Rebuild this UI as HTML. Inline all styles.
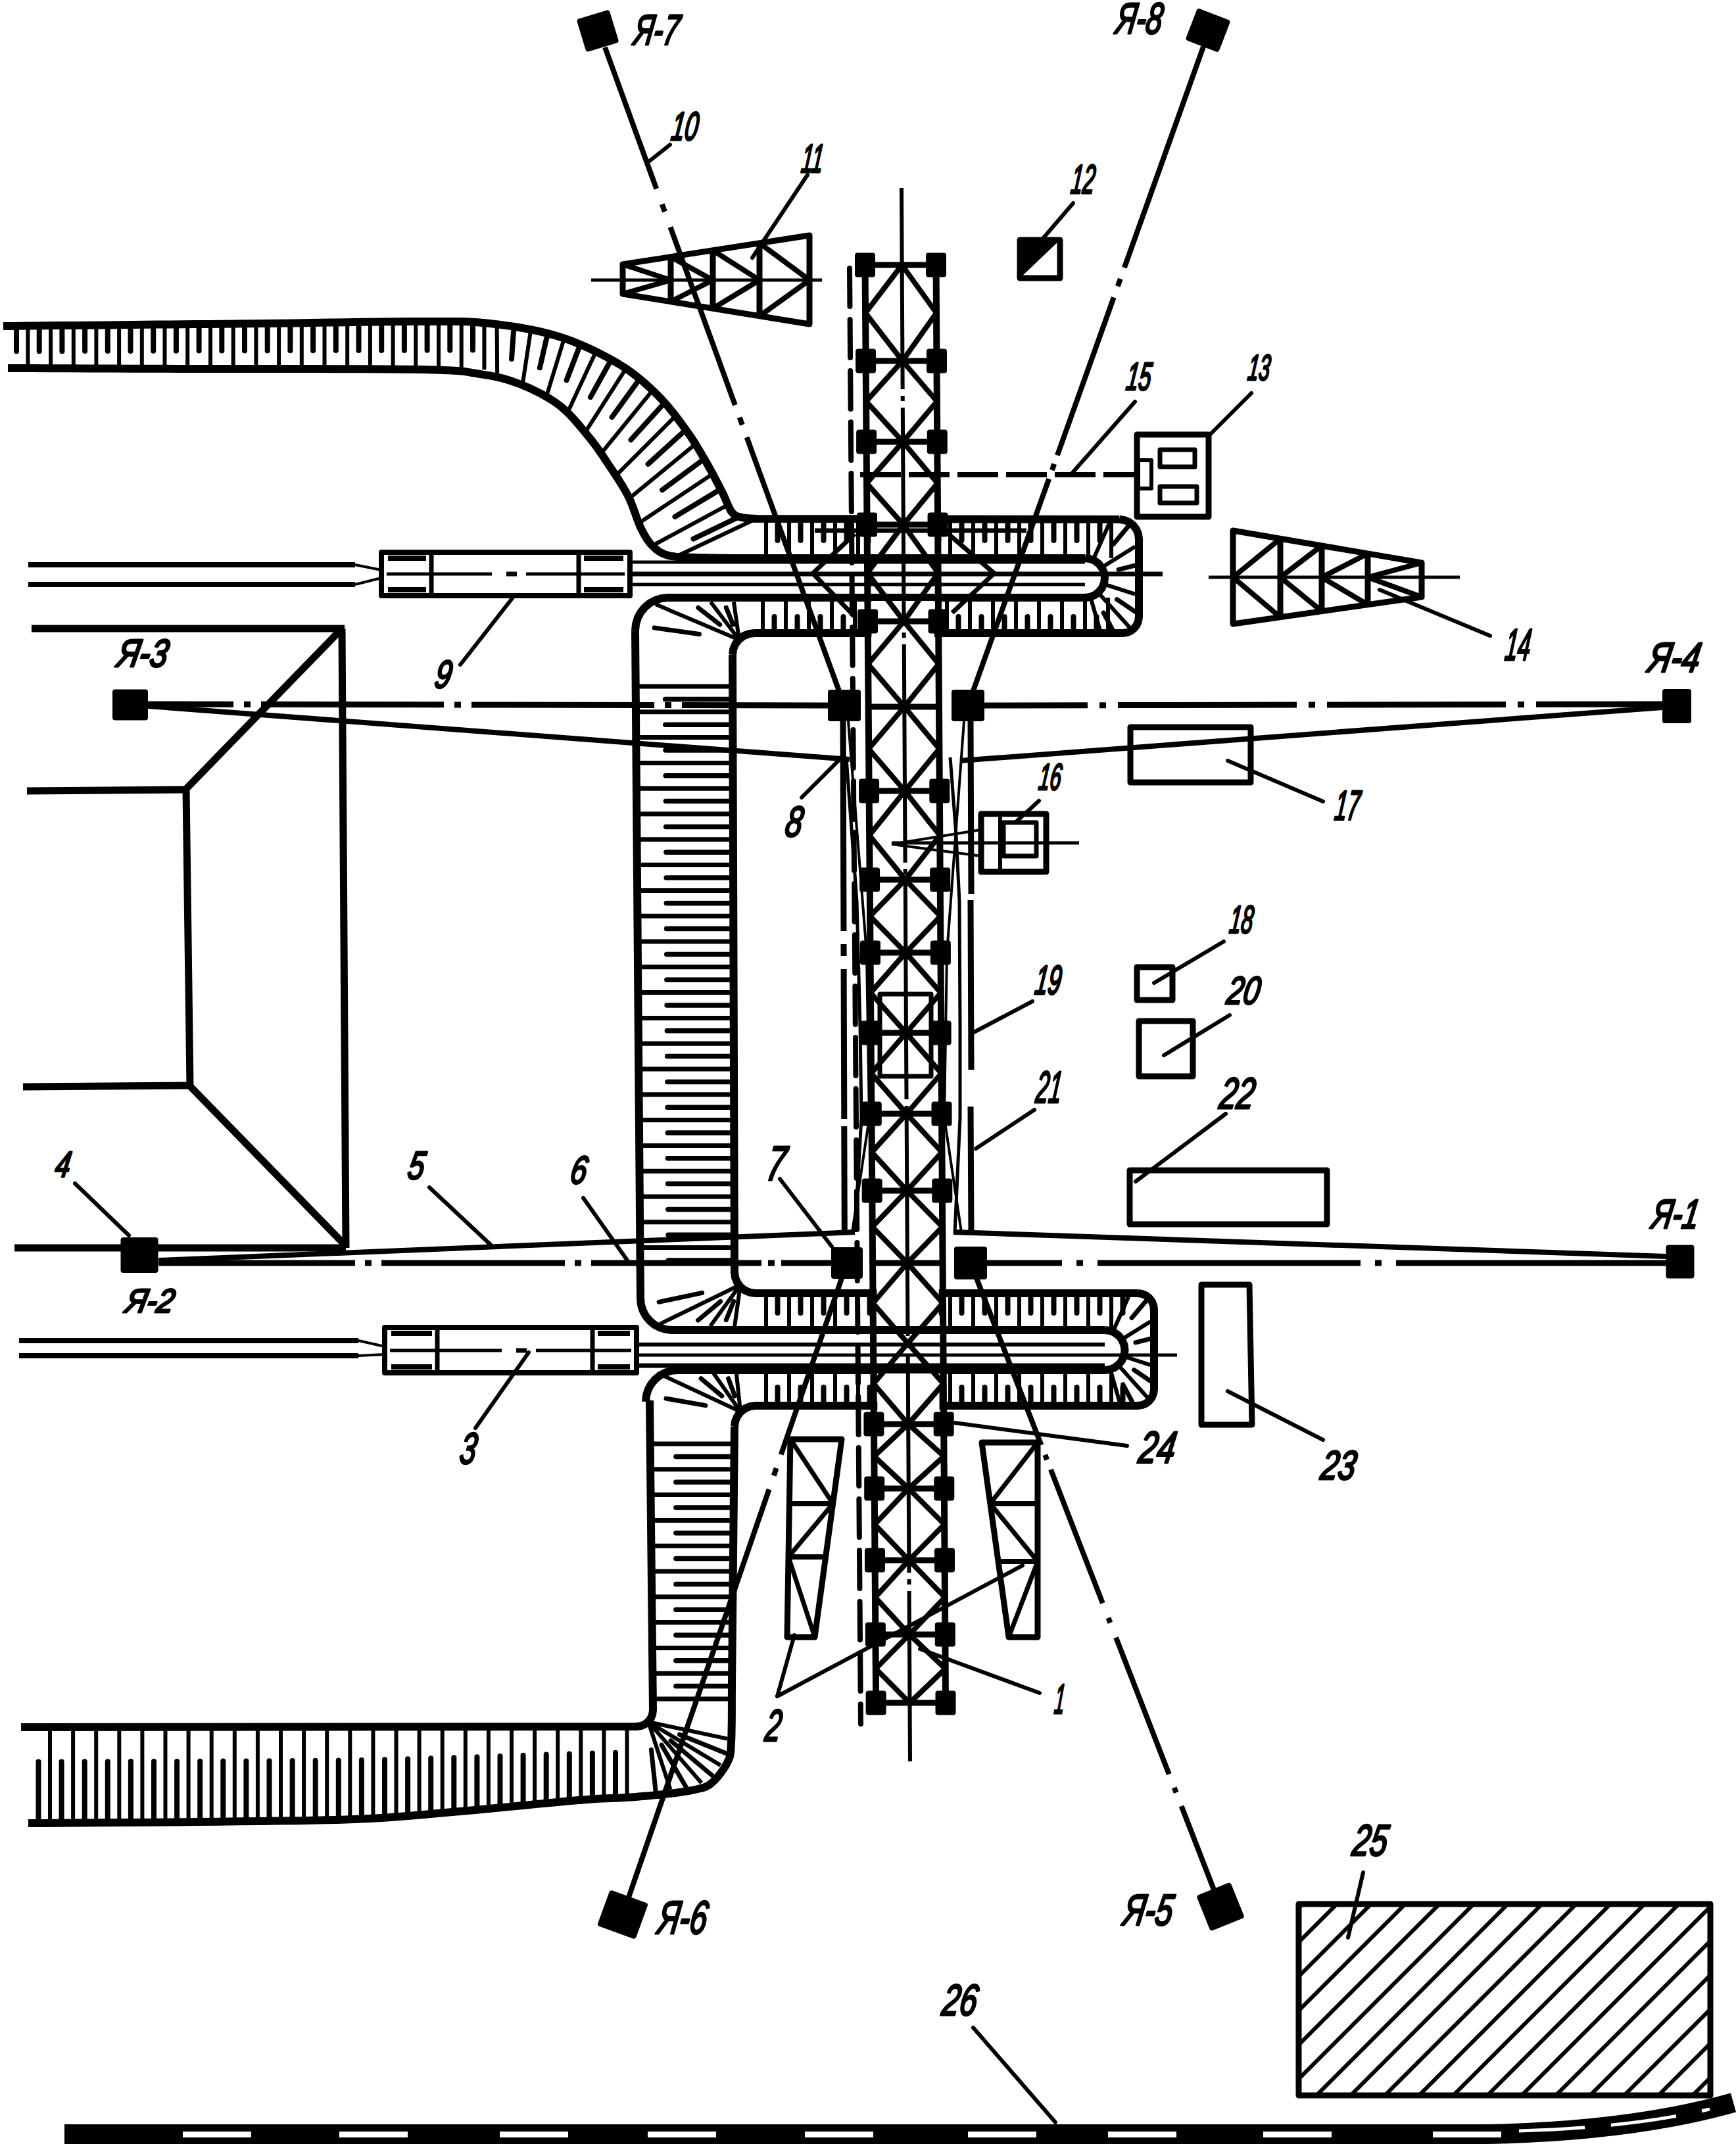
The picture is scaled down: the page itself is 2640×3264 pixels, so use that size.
<!DOCTYPE html><html><head><meta charset="utf-8"><style>html,body{margin:0;padding:0;background:#fff}svg{display:block;-webkit-font-smoothing:antialiased}text{font-family:"Liberation Sans",sans-serif;font-style:italic;fill:#000}</style></head><body><svg width="2640" height="3264" viewBox="0 0 2640 3264">
<rect x="0" y="0" width="2640" height="3264" fill="#fff"/>
<g stroke="#000" fill="none" stroke-linecap="butt" stroke-linejoin="round">
<line x1="25" y1="495.7" x2="25" y2="534.3" stroke-width="8" stroke-linecap="round"/>
<line x1="42.4" y1="495.5" x2="42.4" y2="560.1" stroke-width="6" />
<line x1="59.7" y1="495.3" x2="59.7" y2="534.3" stroke-width="8" stroke-linecap="round"/>
<line x1="77.1" y1="495.2" x2="77.1" y2="560.2" stroke-width="6" />
<line x1="94.4" y1="495" x2="94.4" y2="534.2" stroke-width="8" stroke-linecap="round"/>
<line x1="111.8" y1="494.8" x2="111.8" y2="560.3" stroke-width="6" />
<line x1="129.1" y1="494.6" x2="129.1" y2="534.1" stroke-width="8" stroke-linecap="round"/>
<line x1="146.4" y1="494.4" x2="146.4" y2="560.5" stroke-width="6" />
<line x1="163.8" y1="494.2" x2="163.8" y2="534" stroke-width="8" stroke-linecap="round"/>
<line x1="181.1" y1="494" x2="181.1" y2="560.6" stroke-width="6" />
<line x1="198.5" y1="493.8" x2="198.5" y2="533.9" stroke-width="8" stroke-linecap="round"/>
<line x1="215.8" y1="493.6" x2="215.8" y2="560.7" stroke-width="6" />
<line x1="233.2" y1="493.4" x2="233.2" y2="533.8" stroke-width="8" stroke-linecap="round"/>
<line x1="250.5" y1="493.3" x2="250.5" y2="560.8" stroke-width="6" />
<line x1="267.9" y1="493.1" x2="267.9" y2="533.7" stroke-width="8" stroke-linecap="round"/>
<line x1="285.2" y1="492.9" x2="285.2" y2="560.9" stroke-width="6" />
<line x1="302.6" y1="492.7" x2="302.6" y2="533.6" stroke-width="8" stroke-linecap="round"/>
<line x1="320" y1="492.5" x2="320" y2="561" stroke-width="6" />
<line x1="337.3" y1="492.3" x2="337.3" y2="533.6" stroke-width="8" stroke-linecap="round"/>
<line x1="354.7" y1="492.1" x2="354.7" y2="561.1" stroke-width="6" />
<line x1="372" y1="491.9" x2="372" y2="533.5" stroke-width="8" stroke-linecap="round"/>
<line x1="389.4" y1="491.7" x2="389.4" y2="561.2" stroke-width="6" />
<line x1="406.7" y1="491.6" x2="406.7" y2="533.4" stroke-width="8" stroke-linecap="round"/>
<line x1="424.1" y1="491.4" x2="424.1" y2="561.3" stroke-width="6" />
<line x1="441.4" y1="491.2" x2="441.4" y2="533.3" stroke-width="8" stroke-linecap="round"/>
<line x1="458.8" y1="491" x2="458.8" y2="561.4" stroke-width="6" />
<line x1="476.1" y1="490.8" x2="476.1" y2="533.2" stroke-width="8" stroke-linecap="round"/>
<line x1="493.5" y1="490.6" x2="493.5" y2="561.5" stroke-width="6" />
<line x1="510.8" y1="490.4" x2="510.8" y2="533.1" stroke-width="8" stroke-linecap="round"/>
<line x1="528.2" y1="490.2" x2="528.2" y2="561.7" stroke-width="6" />
<line x1="545.5" y1="490" x2="545.5" y2="533" stroke-width="8" stroke-linecap="round"/>
<line x1="562.9" y1="489.8" x2="562.9" y2="561.8" stroke-width="6" />
<line x1="580.2" y1="489.7" x2="580.2" y2="532.9" stroke-width="8" stroke-linecap="round"/>
<line x1="597.6" y1="489.5" x2="597.6" y2="561.9" stroke-width="6" />
<line x1="614.9" y1="489.3" x2="614.9" y2="532.9" stroke-width="8" stroke-linecap="round"/>
<line x1="632.3" y1="489.1" x2="632.3" y2="562" stroke-width="6" />
<line x1="649.6" y1="488.9" x2="649.6" y2="532.8" stroke-width="8" stroke-linecap="round"/>
<line x1="667" y1="488.7" x2="667" y2="562.1" stroke-width="6" />
<line x1="684.3" y1="488.5" x2="684.3" y2="532.7" stroke-width="8" stroke-linecap="round"/>
<line x1="701.7" y1="488.3" x2="701.7" y2="562.2" stroke-width="6" />
<line x1="719" y1="488.1" x2="719" y2="532.6" stroke-width="8" stroke-linecap="round"/>
<line x1="736.4" y1="487.9" x2="736.4" y2="562.3" stroke-width="6" />
<line x1="755.6" y1="493.2" x2="756.2" y2="573.6" stroke-width="6" />
<line x1="781.5" y1="496.8" x2="778" y2="546" stroke-width="8" stroke-linecap="round"/>
<line x1="807.3" y1="501.3" x2="794.5" y2="585.8" stroke-width="6" />
<line x1="832.9" y1="507.2" x2="820.9" y2="559.3" stroke-width="8" stroke-linecap="round"/>
<line x1="858" y1="514.6" x2="830.8" y2="603.4" stroke-width="6" />
<line x1="882.4" y1="524" x2="861.6" y2="578.2" stroke-width="8" stroke-linecap="round"/>
<line x1="906.3" y1="534.8" x2="863.1" y2="627.4" stroke-width="6" />
<line x1="929.5" y1="547" x2="897.9" y2="604.1" stroke-width="8" stroke-linecap="round"/>
<line x1="951.9" y1="560.6" x2="889.8" y2="657.6" stroke-width="6" />
<line x1="972.9" y1="576.2" x2="930.6" y2="634.5" stroke-width="8" stroke-linecap="round"/>
<line x1="992.4" y1="593.7" x2="914.2" y2="689.7" stroke-width="6" />
<line x1="1010.8" y1="612.4" x2="959.5" y2="668.9" stroke-width="8" stroke-linecap="round"/>
<line x1="1027.4" y1="632.6" x2="936.6" y2="723.3" stroke-width="6" />
<line x1="1043" y1="653.6" x2="985.6" y2="705.7" stroke-width="8" stroke-linecap="round"/>
<line x1="1057.7" y1="675.4" x2="956.9" y2="758.1" stroke-width="6" />
<line x1="1071" y1="697.9" x2="1007.1" y2="745.2" stroke-width="8" stroke-linecap="round"/>
<line x1="1083.9" y1="720.8" x2="971.4" y2="795.7" stroke-width="6" />
<line x1="1095.9" y1="744" x2="1026.5" y2="785.9" stroke-width="8" stroke-linecap="round"/>
<line x1="1106.9" y1="767.8" x2="992.1" y2="830" stroke-width="6" />
<line x1="1124" y1="786" x2="1054.5" y2="819.6" stroke-width="8" stroke-linecap="round"/>
<line x1="1150" y1="789" x2="1027.7" y2="846.8" stroke-width="6" />
<polyline points="5,496 16.6,495.9 31.4,495.7 49,495.5 68.7,495.3 90,495.1 112.3,494.9 135,494.7 157.6,494.4 179.4,494.2 200,494 219.6,493.8 239,493.6 258.4,493.4 277.7,493.2 297.2,493.1 316.9,492.9 336.9,492.7 357.4,492.5 378.4,492.2 400,492 423,491.7 447.6,491.4 473.3,491 499.6,490.6 525.9,490.2 551.8,489.8 576.7,489.5 600,489.2 621.3,489.1 640,489 656,489 669.6,488.9 681.4,488.9 691.7,489 700.9,489.1 709.5,489.3 717.8,489.7 726.2,490.2 735.1,491 745,492 755.6,493.2 766.2,494.6 777,496.1 787.7,497.8 798.4,499.6 809.1,501.7 819.6,503.9 830,506.4 840.1,509.1 850,512 859.7,515.2 869.4,518.7 879,522.5 888.5,526.6 897.8,530.8 906.9,535.1 915.7,539.5 924.2,544 932.3,548.5 940,553 947.3,557.5 954.2,562.1 960.7,566.7 966.9,571.4 972.9,576.2 978.6,581 984.1,585.9 989.5,590.9 994.8,595.9 1000,601 1005.1,606.2 1010,611.5 1014.8,616.9 1019.4,622.5 1023.9,628 1028.2,633.5 1032.3,639.1 1036.4,644.5 1040.2,649.8 1044,655 1047.6,660.1 1051,665 1054.2,669.9 1057.3,674.8 1060.2,679.6 1063.1,684.3 1065.9,689 1068.6,693.7 1071.3,698.3 1074,703 1076.7,707.7 1079.3,712.4 1081.9,717.2 1084.5,721.9 1086.9,726.6 1089.3,731.2 1091.7,735.6 1093.9,739.9 1096,744.1 1098,748 1099.9,751.8 1101.6,755.5 1103.2,759.1 1104.6,762.5 1106.1,765.8 1107.4,768.9 1108.8,771.8 1110.1,774.5 1111.5,776.9 1113,779 1114.5,780.8 1115.9,782.2 1117.3,783.3 1118.7,784.1 1120.1,784.8 1121.5,785.3 1123,785.8 1124.6,786.2 1126.2,786.5 1128,787 1130,787.5 1132.3,787.8 1134.8,788.1 1137.4,788.3 1139.9,788.5 1142.4,788.6 1144.8,788.7 1146.9,788.8 1148.7,788.9 1150,789 1702,790" stroke-width="12" fill="none" />
<polyline points="12,560 28.9,560.1 50.3,560.1 75.6,560.2 104,560.3 134.8,560.4 167.2,560.6 200.7,560.7 234.5,560.8 267.8,560.9 300,561 333,561.1 368.7,561.1 406.1,561.1 444.3,561.1 482.4,561.1 519.5,561.2 554.7,561.3 587.2,561.4 615.9,561.7 640,562 659.3,562.4 674.5,562.9 686.3,563.4 695.4,564 702.5,564.6 708.2,565.3 713.1,566.1 717.9,567 723.3,567.9 730,569 737.2,570.1 743.9,571.2 750.2,572.4 756.2,573.6 761.9,574.9 767.4,576.4 772.9,578 778.5,579.8 784.1,581.8 790,584 796.1,586.4 802.2,589.1 808.5,591.8 814.7,594.8 820.9,597.9 827.1,601.2 833.1,604.7 839,608.3 844.6,612.1 850,616 855.2,620.2 860.2,624.7 865.1,629.4 869.8,634.3 874.4,639.4 878.8,644.5 883.1,649.5 887.2,654.5 891.2,659.4 895,664 898.6,668.4 902,672.7 905.1,676.9 908.1,680.9 910.9,685 913.7,689.1 916.5,693.1 919.2,697.3 922.1,701.6 925,706 928,710.5 931.2,715.2 934.3,719.9 937.5,724.7 940.6,729.5 943.7,734.4 946.7,739.3 949.6,744.2 952.4,749.1 955,754 957.4,759 959.7,764.2 961.8,769.6 963.8,775 965.8,780.3 967.6,785.6 969.5,790.6 971.3,795.4 973.1,799.9 975,804 976.9,807.7 978.6,811.1 980.4,814.2 982.1,817.1 983.8,819.8 985.5,822.2 987.2,824.6 989,826.8 991,828.9 993,831 995.1,833 997.1,834.8 999.2,836.5 1001.3,838.1 1003.5,839.5 1005.8,840.8 1008.3,842 1011,843.1 1013.8,844.1 1017,845 1020.4,845.8 1023.9,846.3 1027.7,846.8 1031.6,847.1 1035.7,847.3 1040,847.5 1044.4,847.6 1049.1,847.7 1053.9,847.8 1059,848 1064.6,848.2 1071,848.3 1077.8,848.5 1085,848.6 1092.1,848.7 1099.1,848.8 1105.6,848.8 1111.4,848.9 1116.3,848.9 1120,849 1650,849" stroke-width="12" fill="none" />
<polyline points="1702,790 1702,790 1709.8,791 1717,794 1723.2,798.8 1728,805 1731,812.2 1732,820 1732,938 1732,938 1731.1,944.5 1728.7,950.5 1724.7,955.7 1719.5,959.7 1713.5,962.1 1707,963 1147,963 1147,963 1138.5,964.1 1130.5,967.4 1123.7,972.7 1118.4,979.5 1115.1,987.5 1114,996 1114,996" stroke-width="12" fill="none" />
<polyline points="1650,849 1650,849 1657.8,850 1665,853 1671.2,857.8 1676,864 1679,871.2 1680,879 1679,886.8 1676,894 1671.2,900.2 1665,905 1657.8,908 1650,909 1016,909 1016,909 1006.2,910 996.9,912.8 988.2,917.4 980.6,923.6 974.4,931.2 969.8,939.9 967,949.2 966,959" stroke-width="12" fill="none" />
<line x1="1165" y1="790" x2="1165" y2="849" stroke-width="6" />
<line x1="1182.5" y1="790" x2="1182.5" y2="822" stroke-width="8" stroke-linecap="round"/>
<line x1="1200" y1="790" x2="1200" y2="849" stroke-width="6" />
<line x1="1217.5" y1="790" x2="1217.5" y2="822" stroke-width="8" stroke-linecap="round"/>
<line x1="1235" y1="790" x2="1235" y2="849" stroke-width="6" />
<line x1="1252.5" y1="790" x2="1252.5" y2="822" stroke-width="8" stroke-linecap="round"/>
<line x1="1270" y1="790" x2="1270" y2="849" stroke-width="6" />
<line x1="1287.5" y1="790" x2="1287.5" y2="822" stroke-width="8" stroke-linecap="round"/>
<line x1="1305" y1="790" x2="1305" y2="849" stroke-width="6" />
<line x1="1322.5" y1="790" x2="1322.5" y2="822" stroke-width="8" stroke-linecap="round"/>
<line x1="1340" y1="790" x2="1340" y2="849" stroke-width="6" />
<line x1="1357.5" y1="790" x2="1357.5" y2="822" stroke-width="8" stroke-linecap="round"/>
<line x1="1375" y1="790" x2="1375" y2="849" stroke-width="6" />
<line x1="1392.5" y1="790" x2="1392.5" y2="822" stroke-width="8" stroke-linecap="round"/>
<line x1="1410" y1="790" x2="1410" y2="849" stroke-width="6" />
<line x1="1427.5" y1="790" x2="1427.5" y2="822" stroke-width="8" stroke-linecap="round"/>
<line x1="1445" y1="790" x2="1445" y2="849" stroke-width="6" />
<line x1="1462.5" y1="790" x2="1462.5" y2="822" stroke-width="8" stroke-linecap="round"/>
<line x1="1480" y1="790" x2="1480" y2="849" stroke-width="6" />
<line x1="1497.5" y1="790" x2="1497.5" y2="822" stroke-width="8" stroke-linecap="round"/>
<line x1="1515" y1="790" x2="1515" y2="849" stroke-width="6" />
<line x1="1532.5" y1="790" x2="1532.5" y2="822" stroke-width="8" stroke-linecap="round"/>
<line x1="1550" y1="790" x2="1550" y2="849" stroke-width="6" />
<line x1="1567.5" y1="790" x2="1567.5" y2="822" stroke-width="8" stroke-linecap="round"/>
<line x1="1585" y1="790" x2="1585" y2="849" stroke-width="6" />
<line x1="1602.5" y1="790" x2="1602.5" y2="822" stroke-width="8" stroke-linecap="round"/>
<line x1="1620" y1="790" x2="1620" y2="849" stroke-width="6" />
<line x1="1637.5" y1="790" x2="1637.5" y2="822" stroke-width="8" stroke-linecap="round"/>
<line x1="1655" y1="790" x2="1655" y2="849" stroke-width="6" />
<line x1="1672.5" y1="790" x2="1672.5" y2="822" stroke-width="8" stroke-linecap="round"/>
<line x1="1690" y1="790" x2="1690" y2="849" stroke-width="6" />
<line x1="1160" y1="909" x2="1160" y2="963" stroke-width="6" />
<line x1="1177.5" y1="963" x2="1177.5" y2="938" stroke-width="8" stroke-linecap="round"/>
<line x1="1195" y1="909" x2="1195" y2="963" stroke-width="6" />
<line x1="1212.5" y1="963" x2="1212.5" y2="938" stroke-width="8" stroke-linecap="round"/>
<line x1="1230" y1="909" x2="1230" y2="963" stroke-width="6" />
<line x1="1247.5" y1="963" x2="1247.5" y2="938" stroke-width="8" stroke-linecap="round"/>
<line x1="1265" y1="909" x2="1265" y2="963" stroke-width="6" />
<line x1="1282.5" y1="963" x2="1282.5" y2="938" stroke-width="8" stroke-linecap="round"/>
<line x1="1300" y1="909" x2="1300" y2="963" stroke-width="6" />
<line x1="1317.5" y1="963" x2="1317.5" y2="938" stroke-width="8" stroke-linecap="round"/>
<line x1="1335" y1="909" x2="1335" y2="963" stroke-width="6" />
<line x1="1352.5" y1="963" x2="1352.5" y2="938" stroke-width="8" stroke-linecap="round"/>
<line x1="1370" y1="909" x2="1370" y2="963" stroke-width="6" />
<line x1="1387.5" y1="963" x2="1387.5" y2="938" stroke-width="8" stroke-linecap="round"/>
<line x1="1405" y1="909" x2="1405" y2="963" stroke-width="6" />
<line x1="1422.5" y1="963" x2="1422.5" y2="938" stroke-width="8" stroke-linecap="round"/>
<line x1="1440" y1="909" x2="1440" y2="963" stroke-width="6" />
<line x1="1457.5" y1="963" x2="1457.5" y2="938" stroke-width="8" stroke-linecap="round"/>
<line x1="1475" y1="909" x2="1475" y2="963" stroke-width="6" />
<line x1="1492.5" y1="963" x2="1492.5" y2="938" stroke-width="8" stroke-linecap="round"/>
<line x1="1510" y1="909" x2="1510" y2="963" stroke-width="6" />
<line x1="1527.5" y1="963" x2="1527.5" y2="938" stroke-width="8" stroke-linecap="round"/>
<line x1="1545" y1="909" x2="1545" y2="963" stroke-width="6" />
<line x1="1562.5" y1="963" x2="1562.5" y2="938" stroke-width="8" stroke-linecap="round"/>
<line x1="1580" y1="909" x2="1580" y2="963" stroke-width="6" />
<line x1="1597.5" y1="963" x2="1597.5" y2="938" stroke-width="8" stroke-linecap="round"/>
<line x1="1615" y1="909" x2="1615" y2="963" stroke-width="6" />
<line x1="1632.5" y1="963" x2="1632.5" y2="938" stroke-width="8" stroke-linecap="round"/>
<line x1="1650" y1="909" x2="1650" y2="963" stroke-width="6" />
<line x1="1667.5" y1="963" x2="1667.5" y2="938" stroke-width="8" stroke-linecap="round"/>
<line x1="1685" y1="909" x2="1685" y2="963" stroke-width="6" />
<line x1="1662.6" y1="850.7" x2="1687" y2="795.9" stroke-width="6" />
<line x1="1693.1" y1="827.7" x2="1716.2" y2="800.1" stroke-width="7" stroke-linecap="round"/>
<line x1="1676.3" y1="862.6" x2="1726.3" y2="831.3" stroke-width="6" />
<line x1="1701" y1="866.3" x2="1726.7" y2="859.9" stroke-width="7" stroke-linecap="round"/>
<line x1="1679.5" y1="888.6" x2="1726.1" y2="903.7" stroke-width="6" />
<line x1="1698.5" y1="911.7" x2="1726.3" y2="930.4" stroke-width="7" stroke-linecap="round"/>
<line x1="1670.7" y1="902" x2="1717.6" y2="954.1" stroke-width="6" />
<line x1="1678.2" y1="932" x2="1691.8" y2="957.6" stroke-width="7" stroke-linecap="round"/>
<line x1="1658.5" y1="908.8" x2="1672.6" y2="957.8" stroke-width="6" />
<line x1="958" y1="855" x2="1650" y2="855" stroke-width="5" />
<line x1="958" y1="873" x2="1768" y2="873" stroke-width="7" />
<line x1="958" y1="889" x2="1650" y2="889" stroke-width="5" />
<polyline points="966,959 974,1975 974,1975 974.9,1984.4 977.7,1993.4 982.1,2001.7 988.1,2008.9 995.3,2014.9 1003.6,2019.3 1012.6,2022.1 1022,2023 1680,2023" stroke-width="12" fill="none" />
<polyline points="1114,996 1117,1935 1117,1935 1118.1,1943.3 1121.3,1951 1126.4,1957.6 1133,1962.7 1140.7,1965.9 1149,1967 1730,1967" stroke-width="12" fill="none" />
<line x1="966.7" y1="1044" x2="1116" y2="1044" stroke-width="7" />
<line x1="1116" y1="1063.4" x2="1011.6" y2="1063.4" stroke-width="7.5" stroke-linecap="round"/>
<line x1="967" y1="1082.8" x2="1116" y2="1082.8" stroke-width="7" />
<line x1="1116" y1="1102.2" x2="1011.8" y2="1102.2" stroke-width="7.5" stroke-linecap="round"/>
<line x1="967.3" y1="1121.6" x2="1116" y2="1121.6" stroke-width="7" />
<line x1="1116" y1="1141" x2="1012" y2="1141" stroke-width="7.5" stroke-linecap="round"/>
<line x1="967.6" y1="1160.4" x2="1116" y2="1160.4" stroke-width="7" />
<line x1="1116" y1="1179.8" x2="1012.2" y2="1179.8" stroke-width="7.5" stroke-linecap="round"/>
<line x1="967.9" y1="1199.2" x2="1116" y2="1199.2" stroke-width="7" />
<line x1="1116" y1="1218.6" x2="1012.4" y2="1218.6" stroke-width="7.5" stroke-linecap="round"/>
<line x1="968.2" y1="1238" x2="1116" y2="1238" stroke-width="7" />
<line x1="1116" y1="1257.4" x2="1012.6" y2="1257.4" stroke-width="7.5" stroke-linecap="round"/>
<line x1="968.5" y1="1276.8" x2="1116" y2="1276.8" stroke-width="7" />
<line x1="1116" y1="1296.2" x2="1012.9" y2="1296.2" stroke-width="7.5" stroke-linecap="round"/>
<line x1="968.8" y1="1315.6" x2="1116" y2="1315.6" stroke-width="7" />
<line x1="1116" y1="1335" x2="1013.1" y2="1335" stroke-width="7.5" stroke-linecap="round"/>
<line x1="969.1" y1="1354.4" x2="1116" y2="1354.4" stroke-width="7" />
<line x1="1116" y1="1373.8" x2="1013.3" y2="1373.8" stroke-width="7.5" stroke-linecap="round"/>
<line x1="969.4" y1="1393.2" x2="1116" y2="1393.2" stroke-width="7" />
<line x1="1116" y1="1412.6" x2="1013.5" y2="1412.6" stroke-width="7.5" stroke-linecap="round"/>
<line x1="969.7" y1="1432" x2="1116" y2="1432" stroke-width="7" />
<line x1="1116" y1="1451.4" x2="1013.7" y2="1451.4" stroke-width="7.5" stroke-linecap="round"/>
<line x1="970" y1="1470.8" x2="1116" y2="1470.8" stroke-width="7" />
<line x1="1116" y1="1490.2" x2="1013.9" y2="1490.2" stroke-width="7.5" stroke-linecap="round"/>
<line x1="970.3" y1="1509.6" x2="1116" y2="1509.6" stroke-width="7" />
<line x1="1116" y1="1529" x2="1014.1" y2="1529" stroke-width="7.5" stroke-linecap="round"/>
<line x1="970.6" y1="1548.4" x2="1116" y2="1548.4" stroke-width="7" />
<line x1="1116" y1="1567.8" x2="1014.4" y2="1567.8" stroke-width="7.5" stroke-linecap="round"/>
<line x1="970.9" y1="1587.2" x2="1116" y2="1587.2" stroke-width="7" />
<line x1="1116" y1="1606.6" x2="1014.6" y2="1606.6" stroke-width="7.5" stroke-linecap="round"/>
<line x1="971.3" y1="1626" x2="1116" y2="1626" stroke-width="7" />
<line x1="1116" y1="1645.4" x2="1014.8" y2="1645.4" stroke-width="7.5" stroke-linecap="round"/>
<line x1="971.6" y1="1664.8" x2="1116" y2="1664.8" stroke-width="7" />
<line x1="1116" y1="1684.2" x2="1015" y2="1684.2" stroke-width="7.5" stroke-linecap="round"/>
<line x1="971.9" y1="1703.6" x2="1116" y2="1703.6" stroke-width="7" />
<line x1="1116" y1="1723" x2="1015.2" y2="1723" stroke-width="7.5" stroke-linecap="round"/>
<line x1="972.2" y1="1742.4" x2="1116" y2="1742.4" stroke-width="7" />
<line x1="1116" y1="1761.8" x2="1015.4" y2="1761.8" stroke-width="7.5" stroke-linecap="round"/>
<line x1="972.5" y1="1781.2" x2="1116" y2="1781.2" stroke-width="7" />
<line x1="1116" y1="1800.6" x2="1015.6" y2="1800.6" stroke-width="7.5" stroke-linecap="round"/>
<line x1="972.8" y1="1820" x2="1116" y2="1820" stroke-width="7" />
<line x1="1116" y1="1839.4" x2="1015.9" y2="1839.4" stroke-width="7.5" stroke-linecap="round"/>
<line x1="973.1" y1="1858.8" x2="1116" y2="1858.8" stroke-width="7" />
<line x1="1116" y1="1878.2" x2="1016.1" y2="1878.2" stroke-width="7.5" stroke-linecap="round"/>
<line x1="973.4" y1="1897.6" x2="1116" y2="1897.6" stroke-width="7" />
<line x1="1116" y1="1917" x2="1016.3" y2="1917" stroke-width="7.5" stroke-linecap="round"/>
<line x1="1063.4" y1="964.5" x2="995.2" y2="954.9" stroke-width="7" stroke-linecap="round"/>
<line x1="1124" y1="973" x2="997" y2="919.1" stroke-width="6" />
<line x1="1094.7" y1="950.1" x2="1061.7" y2="924.3" stroke-width="7" stroke-linecap="round"/>
<line x1="1124" y1="973" x2="1080.7" y2="915.5" stroke-width="6" />
<line x1="1114.7" y1="950" x2="1104.3" y2="924.1" stroke-width="7" stroke-linecap="round"/>
<line x1="1124" y1="973" x2="1115.9" y2="915.6" stroke-width="6" />
<line x1="1126" y1="1954" x2="1117.1" y2="2017.4" stroke-width="6" />
<line x1="1115.8" y1="1979.2" x2="1104.3" y2="2007.6" stroke-width="7" stroke-linecap="round"/>
<line x1="1126" y1="1954" x2="1080.2" y2="2017.1" stroke-width="6" />
<line x1="1095.7" y1="1979.5" x2="1061.5" y2="2008.1" stroke-width="7" stroke-linecap="round"/>
<line x1="1126" y1="1954" x2="1003.8" y2="2013.6" stroke-width="6" />
<line x1="1067.7" y1="1966.4" x2="1002.1" y2="1980.3" stroke-width="7" stroke-linecap="round"/>
<polyline points="1730,1967 1730,1967 1736.5,1967.9 1742.5,1970.3 1747.7,1974.3 1751.7,1979.5 1754.1,1985.5 1755,1992 1755,2113 1755,2113 1754.1,2119.5 1751.7,2125.5 1747.7,2130.7 1742.5,2134.7 1736.5,2137.1 1730,2138 1149,2138 1149,2138 1140.7,2139.1 1133,2142.3 1126.4,2147.4 1121.3,2154 1118.1,2161.7 1117,2170 1117,2170" stroke-width="12" fill="none" />
<polyline points="1680,2023 1680,2023 1687.9,2024 1695.2,2027.1 1701.6,2031.9 1706.4,2038.2 1709.5,2045.6 1710.5,2053.5 1709.5,2061.4 1706.4,2068.8 1701.6,2075.1 1695.2,2079.9 1687.9,2083 1680,2084 1030,2084 1030,2084 1020.6,2084.9 1011.6,2087.7 1003.3,2092.1 996.1,2098.1 990.1,2105.3 985.7,2113.6 982.9,2122.6 982,2132" stroke-width="12" fill="none" />
<line x1="1165" y1="1967" x2="1165" y2="2023" stroke-width="6" />
<line x1="1182.5" y1="1967" x2="1182.5" y2="1997" stroke-width="8" stroke-linecap="round"/>
<line x1="1200" y1="1967" x2="1200" y2="2023" stroke-width="6" />
<line x1="1217.5" y1="1967" x2="1217.5" y2="1997" stroke-width="8" stroke-linecap="round"/>
<line x1="1235" y1="1967" x2="1235" y2="2023" stroke-width="6" />
<line x1="1252.5" y1="1967" x2="1252.5" y2="1997" stroke-width="8" stroke-linecap="round"/>
<line x1="1270" y1="1967" x2="1270" y2="2023" stroke-width="6" />
<line x1="1287.5" y1="1967" x2="1287.5" y2="1997" stroke-width="8" stroke-linecap="round"/>
<line x1="1305" y1="1967" x2="1305" y2="2023" stroke-width="6" />
<line x1="1322.5" y1="1967" x2="1322.5" y2="1997" stroke-width="8" stroke-linecap="round"/>
<line x1="1340" y1="1967" x2="1340" y2="2023" stroke-width="6" />
<line x1="1357.5" y1="1967" x2="1357.5" y2="1997" stroke-width="8" stroke-linecap="round"/>
<line x1="1375" y1="1967" x2="1375" y2="2023" stroke-width="6" />
<line x1="1392.5" y1="1967" x2="1392.5" y2="1997" stroke-width="8" stroke-linecap="round"/>
<line x1="1410" y1="1967" x2="1410" y2="2023" stroke-width="6" />
<line x1="1427.5" y1="1967" x2="1427.5" y2="1997" stroke-width="8" stroke-linecap="round"/>
<line x1="1445" y1="1967" x2="1445" y2="2023" stroke-width="6" />
<line x1="1462.5" y1="1967" x2="1462.5" y2="1997" stroke-width="8" stroke-linecap="round"/>
<line x1="1480" y1="1967" x2="1480" y2="2023" stroke-width="6" />
<line x1="1497.5" y1="1967" x2="1497.5" y2="1997" stroke-width="8" stroke-linecap="round"/>
<line x1="1515" y1="1967" x2="1515" y2="2023" stroke-width="6" />
<line x1="1532.5" y1="1967" x2="1532.5" y2="1997" stroke-width="8" stroke-linecap="round"/>
<line x1="1550" y1="1967" x2="1550" y2="2023" stroke-width="6" />
<line x1="1567.5" y1="1967" x2="1567.5" y2="1997" stroke-width="8" stroke-linecap="round"/>
<line x1="1585" y1="1967" x2="1585" y2="2023" stroke-width="6" />
<line x1="1602.5" y1="1967" x2="1602.5" y2="1997" stroke-width="8" stroke-linecap="round"/>
<line x1="1620" y1="1967" x2="1620" y2="2023" stroke-width="6" />
<line x1="1637.5" y1="1967" x2="1637.5" y2="1997" stroke-width="8" stroke-linecap="round"/>
<line x1="1655" y1="1967" x2="1655" y2="2023" stroke-width="6" />
<line x1="1672.5" y1="1967" x2="1672.5" y2="1997" stroke-width="8" stroke-linecap="round"/>
<line x1="1690" y1="1967" x2="1690" y2="2023" stroke-width="6" />
<line x1="1707.5" y1="1967" x2="1707.5" y2="1997" stroke-width="8" stroke-linecap="round"/>
<line x1="1165" y1="2082" x2="1165" y2="2138" stroke-width="6" />
<line x1="1182.5" y1="2138" x2="1182.5" y2="2110" stroke-width="8" stroke-linecap="round"/>
<line x1="1200" y1="2082" x2="1200" y2="2138" stroke-width="6" />
<line x1="1217.5" y1="2138" x2="1217.5" y2="2110" stroke-width="8" stroke-linecap="round"/>
<line x1="1235" y1="2082" x2="1235" y2="2138" stroke-width="6" />
<line x1="1252.5" y1="2138" x2="1252.5" y2="2110" stroke-width="8" stroke-linecap="round"/>
<line x1="1270" y1="2082" x2="1270" y2="2138" stroke-width="6" />
<line x1="1287.5" y1="2138" x2="1287.5" y2="2110" stroke-width="8" stroke-linecap="round"/>
<line x1="1305" y1="2082" x2="1305" y2="2138" stroke-width="6" />
<line x1="1322.5" y1="2138" x2="1322.5" y2="2110" stroke-width="8" stroke-linecap="round"/>
<line x1="1340" y1="2082" x2="1340" y2="2138" stroke-width="6" />
<line x1="1357.5" y1="2138" x2="1357.5" y2="2110" stroke-width="8" stroke-linecap="round"/>
<line x1="1375" y1="2082" x2="1375" y2="2138" stroke-width="6" />
<line x1="1392.5" y1="2138" x2="1392.5" y2="2110" stroke-width="8" stroke-linecap="round"/>
<line x1="1410" y1="2082" x2="1410" y2="2138" stroke-width="6" />
<line x1="1427.5" y1="2138" x2="1427.5" y2="2110" stroke-width="8" stroke-linecap="round"/>
<line x1="1445" y1="2082" x2="1445" y2="2138" stroke-width="6" />
<line x1="1462.5" y1="2138" x2="1462.5" y2="2110" stroke-width="8" stroke-linecap="round"/>
<line x1="1480" y1="2082" x2="1480" y2="2138" stroke-width="6" />
<line x1="1497.5" y1="2138" x2="1497.5" y2="2110" stroke-width="8" stroke-linecap="round"/>
<line x1="1515" y1="2082" x2="1515" y2="2138" stroke-width="6" />
<line x1="1532.5" y1="2138" x2="1532.5" y2="2110" stroke-width="8" stroke-linecap="round"/>
<line x1="1550" y1="2082" x2="1550" y2="2138" stroke-width="6" />
<line x1="1567.5" y1="2138" x2="1567.5" y2="2110" stroke-width="8" stroke-linecap="round"/>
<line x1="1585" y1="2082" x2="1585" y2="2138" stroke-width="6" />
<line x1="1602.5" y1="2138" x2="1602.5" y2="2110" stroke-width="8" stroke-linecap="round"/>
<line x1="1620" y1="2082" x2="1620" y2="2138" stroke-width="6" />
<line x1="1637.5" y1="2138" x2="1637.5" y2="2110" stroke-width="8" stroke-linecap="round"/>
<line x1="1655" y1="2082" x2="1655" y2="2138" stroke-width="6" />
<line x1="1672.5" y1="2138" x2="1672.5" y2="2110" stroke-width="8" stroke-linecap="round"/>
<line x1="1690" y1="2082" x2="1690" y2="2138" stroke-width="6" />
<line x1="1707.5" y1="2138" x2="1707.5" y2="2110" stroke-width="8" stroke-linecap="round"/>
<line x1="1691.8" y1="2027" x2="1716.2" y2="1972.2" stroke-width="6" />
<line x1="1721.1" y1="2004.5" x2="1743.6" y2="1977.7" stroke-width="7" stroke-linecap="round"/>
<line x1="1704.6" y1="2038.1" x2="1749.5" y2="2010" stroke-width="6" />
<line x1="1726.9" y1="2041.8" x2="1749.9" y2="2036.1" stroke-width="7" stroke-linecap="round"/>
<line x1="1707.6" y1="2062.5" x2="1749.4" y2="2076.1" stroke-width="6" />
<line x1="1724.6" y1="2083.6" x2="1749.6" y2="2100.5" stroke-width="7" stroke-linecap="round"/>
<line x1="1699.4" y1="2075.1" x2="1744.9" y2="2125.6" stroke-width="6" />
<line x1="1707.7" y1="2105.6" x2="1721.8" y2="2132.1" stroke-width="7" stroke-linecap="round"/>
<line x1="1688" y1="2081.4" x2="1702.6" y2="2132.3" stroke-width="6" />
<line x1="968" y1="2045" x2="1680" y2="2045" stroke-width="6" />
<line x1="968" y1="2061" x2="1790" y2="2061" stroke-width="5" />
<line x1="968" y1="2077" x2="1680" y2="2077" stroke-width="7" />
<polyline points="988,2130 993,2601 993,2601 992.1,2607.5 989.7,2613.5 985.7,2618.7 980.5,2622.7 974.5,2625.1 968,2626 32,2627" stroke-width="12" fill="none" />
<polyline points="1117,2170 1113,2560 1113,2560 1113,2567.3 1112.9,2577.6 1112.9,2589.8 1112.9,2603.1 1112.8,2616.6 1112.6,2629.5 1112.4,2641 1112,2650 1111.6,2656.7 1111.3,2661.9 1110.9,2665.9 1110.4,2669.2 1109.8,2672 1108.9,2674.6 1107.6,2677.5 1106,2681 1103.9,2685 1101.3,2689.2 1098.4,2693.5 1095.2,2697.8 1091.9,2701.9 1088.5,2705.7 1085.2,2709.1 1082,2712 1079.1,2714.3 1076.4,2716 1073.7,2717.4 1071,2718.5 1068.1,2719.4 1064.9,2720.2 1061.2,2721 1057,2722 1052.2,2723 1046.9,2724 1041.1,2724.9 1035.1,2725.8 1028.7,2726.7 1022.2,2727.5 1015.6,2728.2 1009,2729 1002.3,2729.7 995.5,2730.4 988.6,2731.1 981.4,2731.7 974.1,2732.3 966.6,2732.9 958.9,2733.4 951,2734 943.5,2734.5 936.7,2734.8 930.1,2735 923.1,2735.2 915.2,2735.6 905.7,2736.1 894.2,2736.9 880,2738 862.6,2739.5 842.2,2741.5 819.6,2743.6 795.6,2746 770.9,2748.4 746.2,2750.8 722.3,2753 700,2755 679.5,2756.8 660.2,2758.5 641.7,2760.2 623.2,2761.8 604.3,2763.3 584.3,2764.7 562.7,2765.9 539,2767 513,2767.9 485.2,2768.6 455.9,2769.2 425.5,2769.6 394.4,2770 362.8,2770.3 331.3,2770.7 300,2771 267,2771.4 231,2771.7 193.6,2772 156.6,2772.2 121.3,2772.5 89.6,2772.7 63,2772.9 43,2773" stroke-width="12" fill="none" />
<line x1="991" y1="2196" x2="1114" y2="2196" stroke-width="7" />
<line x1="1114" y1="2215.4" x2="1027.9" y2="2215.4" stroke-width="7.5" stroke-linecap="round"/>
<line x1="991" y1="2234.8" x2="1114" y2="2234.8" stroke-width="7" />
<line x1="1114" y1="2254.2" x2="1027.9" y2="2254.2" stroke-width="7.5" stroke-linecap="round"/>
<line x1="991" y1="2273.6" x2="1114" y2="2273.6" stroke-width="7" />
<line x1="1114" y1="2293" x2="1027.9" y2="2293" stroke-width="7.5" stroke-linecap="round"/>
<line x1="991" y1="2312.4" x2="1114" y2="2312.4" stroke-width="7" />
<line x1="1114" y1="2331.8" x2="1027.9" y2="2331.8" stroke-width="7.5" stroke-linecap="round"/>
<line x1="991" y1="2351.2" x2="1114" y2="2351.2" stroke-width="7" />
<line x1="1114" y1="2370.6" x2="1027.9" y2="2370.6" stroke-width="7.5" stroke-linecap="round"/>
<line x1="991" y1="2390" x2="1114" y2="2390" stroke-width="7" />
<line x1="1114" y1="2409.4" x2="1027.9" y2="2409.4" stroke-width="7.5" stroke-linecap="round"/>
<line x1="991" y1="2428.8" x2="1114" y2="2428.8" stroke-width="7" />
<line x1="1114" y1="2448.2" x2="1027.9" y2="2448.2" stroke-width="7.5" stroke-linecap="round"/>
<line x1="991" y1="2467.6" x2="1114" y2="2467.6" stroke-width="7" />
<line x1="1114" y1="2487" x2="1027.9" y2="2487" stroke-width="7.5" stroke-linecap="round"/>
<line x1="991" y1="2506.4" x2="1114" y2="2506.4" stroke-width="7" />
<line x1="1114" y1="2525.8" x2="1027.9" y2="2525.8" stroke-width="7.5" stroke-linecap="round"/>
<line x1="991" y1="2545.2" x2="1114" y2="2545.2" stroke-width="7" />
<line x1="1114" y1="2564.6" x2="1027.9" y2="2564.6" stroke-width="7.5" stroke-linecap="round"/>
<line x1="991" y1="2584" x2="1114" y2="2584" stroke-width="7" />
<line x1="1072.8" y1="2137.6" x2="1013" y2="2127.1" stroke-width="7" stroke-linecap="round"/>
<line x1="1126" y1="2147" x2="1010" y2="2092.9" stroke-width="6" />
<line x1="1097.8" y1="2123.3" x2="1066.1" y2="2096.7" stroke-width="7" stroke-linecap="round"/>
<line x1="1126" y1="2147" x2="1084.1" y2="2087.2" stroke-width="6" />
<line x1="1117.4" y1="2123.3" x2="1107.7" y2="2096.7" stroke-width="7" stroke-linecap="round"/>
<line x1="1126" y1="2147" x2="1119.7" y2="2087.3" stroke-width="6" />
<line x1="986" y1="2619" x2="1106.3" y2="2644.6" stroke-width="6" />
<line x1="1033.5" y1="2638.2" x2="1104.7" y2="2666.9" stroke-width="7" stroke-linecap="round"/>
<line x1="986" y1="2619" x2="1095.7" y2="2684.9" stroke-width="6" />
<line x1="1020.1" y1="2647.6" x2="1083.3" y2="2700.6" stroke-width="7" stroke-linecap="round"/>
<line x1="986" y1="2619" x2="1066.7" y2="2711.8" stroke-width="6" />
<line x1="1006.1" y1="2653.9" x2="1043.5" y2="2718.6" stroke-width="7" stroke-linecap="round"/>
<line x1="986" y1="2619" x2="1019.4" y2="2721.7" stroke-width="6" />
<line x1="990.4" y1="2661.2" x2="997.1" y2="2724.4" stroke-width="7" stroke-linecap="round"/>
<line x1="76" y1="2627" x2="76" y2="2772.7" stroke-width="6" />
<line x1="58.5" y1="2772.9" x2="58.5" y2="2679.5" stroke-width="8" stroke-linecap="round"/>
<line x1="111.1" y1="2627" x2="111.1" y2="2772.5" stroke-width="6" />
<line x1="93.6" y1="2772.6" x2="93.6" y2="2679.4" stroke-width="8" stroke-linecap="round"/>
<line x1="146.2" y1="2627" x2="146.2" y2="2772.2" stroke-width="6" />
<line x1="128.7" y1="2772.3" x2="128.7" y2="2679.3" stroke-width="8" stroke-linecap="round"/>
<line x1="181.3" y1="2627" x2="181.3" y2="2771.9" stroke-width="6" />
<line x1="163.8" y1="2772.1" x2="163.8" y2="2679.2" stroke-width="8" stroke-linecap="round"/>
<line x1="216.4" y1="2627" x2="216.4" y2="2771.7" stroke-width="6" />
<line x1="198.9" y1="2771.8" x2="198.9" y2="2679.1" stroke-width="8" stroke-linecap="round"/>
<line x1="251.5" y1="2627" x2="251.5" y2="2771.4" stroke-width="6" />
<line x1="234" y1="2771.5" x2="234" y2="2679" stroke-width="8" stroke-linecap="round"/>
<line x1="286.6" y1="2627" x2="286.6" y2="2771.1" stroke-width="6" />
<line x1="269.1" y1="2771.2" x2="269.1" y2="2678.9" stroke-width="8" stroke-linecap="round"/>
<line x1="321.7" y1="2627" x2="321.7" y2="2770.6" stroke-width="6" />
<line x1="304.2" y1="2770.9" x2="304.2" y2="2678.8" stroke-width="8" stroke-linecap="round"/>
<line x1="356.8" y1="2627" x2="356.8" y2="2770" stroke-width="6" />
<line x1="339.3" y1="2770.3" x2="339.3" y2="2678.6" stroke-width="8" stroke-linecap="round"/>
<line x1="391.9" y1="2627" x2="391.9" y2="2769.5" stroke-width="6" />
<line x1="374.4" y1="2769.8" x2="374.4" y2="2678.4" stroke-width="8" stroke-linecap="round"/>
<line x1="427" y1="2627" x2="427" y2="2768.9" stroke-width="6" />
<line x1="409.5" y1="2769.2" x2="409.5" y2="2678.2" stroke-width="8" stroke-linecap="round"/>
<line x1="462.1" y1="2627" x2="462.1" y2="2768.3" stroke-width="6" />
<line x1="444.6" y1="2768.6" x2="444.6" y2="2678" stroke-width="8" stroke-linecap="round"/>
<line x1="497.2" y1="2627" x2="497.2" y2="2767.7" stroke-width="6" />
<line x1="479.7" y1="2768" x2="479.7" y2="2677.8" stroke-width="8" stroke-linecap="round"/>
<line x1="532.3" y1="2627" x2="532.3" y2="2767.1" stroke-width="6" />
<line x1="514.8" y1="2767.4" x2="514.8" y2="2677.5" stroke-width="8" stroke-linecap="round"/>
<line x1="567.4" y1="2627" x2="567.4" y2="2764.9" stroke-width="6" />
<line x1="549.9" y1="2766.2" x2="549.9" y2="2677.1" stroke-width="8" stroke-linecap="round"/>
<line x1="602.5" y1="2627" x2="602.5" y2="2762.3" stroke-width="6" />
<line x1="585" y1="2763.6" x2="585" y2="2676.2" stroke-width="8" stroke-linecap="round"/>
<line x1="637.6" y1="2627" x2="637.6" y2="2759.7" stroke-width="6" />
<line x1="620.1" y1="2761" x2="620.1" y2="2675.2" stroke-width="8" stroke-linecap="round"/>
<line x1="672.7" y1="2627" x2="672.7" y2="2757" stroke-width="6" />
<line x1="655.2" y1="2758.3" x2="655.2" y2="2674.3" stroke-width="8" stroke-linecap="round"/>
<line x1="707.8" y1="2627" x2="707.8" y2="2754.3" stroke-width="6" />
<line x1="690.3" y1="2755.7" x2="690.3" y2="2673.3" stroke-width="8" stroke-linecap="round"/>
<line x1="742.9" y1="2627" x2="742.9" y2="2750.9" stroke-width="6" />
<line x1="725.4" y1="2752.6" x2="725.4" y2="2672.2" stroke-width="8" stroke-linecap="round"/>
<line x1="778" y1="2627" x2="778" y2="2747.6" stroke-width="6" />
<line x1="760.5" y1="2749.3" x2="760.5" y2="2671" stroke-width="8" stroke-linecap="round"/>
<line x1="813.1" y1="2627" x2="813.1" y2="2744.3" stroke-width="6" />
<line x1="795.6" y1="2746" x2="795.6" y2="2669.8" stroke-width="8" stroke-linecap="round"/>
<line x1="848.2" y1="2627" x2="848.2" y2="2741" stroke-width="6" />
<line x1="830.7" y1="2742.7" x2="830.7" y2="2668.6" stroke-width="8" stroke-linecap="round"/>
<line x1="883.3" y1="2627" x2="883.3" y2="2737.8" stroke-width="6" />
<line x1="865.8" y1="2739.3" x2="865.8" y2="2667.4" stroke-width="8" stroke-linecap="round"/>
<line x1="918.4" y1="2627" x2="918.4" y2="2735.8" stroke-width="6" />
<line x1="900.9" y1="2736.8" x2="900.9" y2="2666.5" stroke-width="8" stroke-linecap="round"/>
<line x1="953.5" y1="2627" x2="953.5" y2="2733.8" stroke-width="6" />
<line x1="936" y1="2734.8" x2="936" y2="2665.8" stroke-width="8" stroke-linecap="round"/>
<line x1="48" y1="956" x2="524" y2="956" stroke-width="11" />
<line x1="520" y1="956" x2="526" y2="1898" stroke-width="11" />
<line x1="520" y1="956" x2="282" y2="1201" stroke-width="11" />
<line x1="41" y1="1203" x2="285" y2="1201" stroke-width="11" />
<line x1="283" y1="1201" x2="289" y2="1652" stroke-width="11" />
<line x1="35" y1="1653" x2="289" y2="1651" stroke-width="11" />
<line x1="288" y1="1651" x2="526" y2="1895" stroke-width="11" />
<line x1="22" y1="1898" x2="526" y2="1898" stroke-width="11" />
<rect x="580" y="840" width="378" height="66" stroke-width="8" fill="none" />
<line x1="656" y1="840" x2="656" y2="906" stroke-width="7" />
<line x1="880" y1="840" x2="880" y2="906" stroke-width="7" />
<rect x="590" y="845" width="58" height="8" fill="#000" stroke="none"/>
<rect x="590" y="893" width="58" height="8" fill="#000" stroke="none"/>
<rect x="888" y="845" width="60" height="8" fill="#000" stroke="none"/>
<rect x="888" y="893" width="60" height="8" fill="#000" stroke="none"/>
<line x1="588" y1="873" x2="748" y2="873" stroke-width="5" />
<line x1="770" y1="873" x2="786" y2="873" stroke-width="7" />
<line x1="800" y1="873" x2="950" y2="873" stroke-width="5" />
<line x1="43" y1="859" x2="540" y2="859" stroke-width="8" />
<line x1="43" y1="889" x2="540" y2="889" stroke-width="8" />
<line x1="540" y1="859" x2="580" y2="867" stroke-width="4" />
<line x1="540" y1="889" x2="580" y2="879" stroke-width="4" />
<rect x="585" y="2019" width="383" height="69" stroke-width="8" fill="none" />
<line x1="665" y1="2019" x2="665" y2="2088" stroke-width="7" />
<line x1="901" y1="2019" x2="901" y2="2088" stroke-width="7" />
<rect x="595" y="2024" width="62" height="8" fill="#000" stroke="none"/>
<rect x="595" y="2075" width="62" height="8" fill="#000" stroke="none"/>
<rect x="909" y="2024" width="49" height="8" fill="#000" stroke="none"/>
<rect x="909" y="2075" width="49" height="8" fill="#000" stroke="none"/>
<line x1="593" y1="2054" x2="763" y2="2054" stroke-width="5" />
<line x1="785" y1="2054" x2="801" y2="2054" stroke-width="7" />
<line x1="815" y1="2054" x2="960" y2="2054" stroke-width="5" />
<line x1="29" y1="2039" x2="545" y2="2039" stroke-width="8" />
<line x1="29" y1="2062" x2="545" y2="2062" stroke-width="8" />
<line x1="545" y1="2039" x2="585" y2="2048" stroke-width="4" />
<line x1="545" y1="2062" x2="585" y2="2060" stroke-width="4" />
<rect x="1324.4" y="782" width="95.6" height="61" fill="#fff" stroke="none"/>
<rect x="1325.4" y="914" width="95.5" height="58" fill="#fff" stroke="none"/>
<rect x="1333.3" y="1958" width="94.4" height="59" fill="#fff" stroke="none"/>
<rect x="1334.3" y="2089" width="94.3" height="57" fill="#fff" stroke="none"/>
<line x1="1315.4" y1="385" x2="1332.3" y2="2605" stroke-width="10" />
<line x1="1423.4" y1="385" x2="1438.1" y2="2605" stroke-width="10" />
<line x1="1315.5" y1="403" x2="1423.5" y2="403" stroke-width="9" />
<line x1="1316.6" y1="549" x2="1424.5" y2="549" stroke-width="9" />
<line x1="1317.6" y1="672" x2="1425.3" y2="672" stroke-width="9" />
<line x1="1318.5" y1="798" x2="1426.1" y2="798" stroke-width="9" />
<line x1="1319.6" y1="945" x2="1427.1" y2="945" stroke-width="9" />
<line x1="1320.6" y1="1075" x2="1428" y2="1075" stroke-width="9" />
<line x1="1321.6" y1="1203" x2="1428.8" y2="1203" stroke-width="9" />
<line x1="1322.6" y1="1338" x2="1429.7" y2="1338" stroke-width="9" />
<line x1="1323.5" y1="1449" x2="1430.4" y2="1449" stroke-width="9" />
<line x1="1324.4" y1="1571" x2="1431.2" y2="1571" stroke-width="9" />
<line x1="1325.3" y1="1694" x2="1432" y2="1694" stroke-width="9" />
<line x1="1326.2" y1="1811" x2="1432.8" y2="1811" stroke-width="9" />
<line x1="1327.1" y1="1921" x2="1433.5" y2="1921" stroke-width="9" />
<line x1="1328.9" y1="2166" x2="1435.2" y2="2166" stroke-width="9" />
<line x1="1329.7" y1="2264" x2="1435.8" y2="2264" stroke-width="9" />
<line x1="1330.5" y1="2373" x2="1436.5" y2="2373" stroke-width="9" />
<line x1="1331.4" y1="2486" x2="1437.3" y2="2486" stroke-width="9" />
<line x1="1332.1" y1="2590" x2="1438" y2="2590" stroke-width="9" />
<polyline points="1371.6,403 1316.1,476 1372.4,549" stroke-width="8" fill="none" />
<polyline points="1371.6,403 1424,476 1372.4,549" stroke-width="8" fill="none" />
<polyline points="1372.4,549 1317.1,610.5 1373.1,672" stroke-width="8" fill="none" />
<polyline points="1372.4,549 1424.9,610.5 1373.1,672" stroke-width="8" fill="none" />
<polyline points="1373.1,672 1318,735 1373.8,798" stroke-width="8" fill="none" />
<polyline points="1373.1,672 1425.7,735 1373.8,798" stroke-width="8" fill="none" />
<polyline points="1373.8,798 1319.1,871.5 1374.6,945" stroke-width="8" fill="none" />
<polyline points="1373.8,798 1426.6,871.5 1374.6,945" stroke-width="8" fill="none" />
<polyline points="1374.6,945 1320.1,1010 1375.3,1075" stroke-width="8" fill="none" />
<polyline points="1374.6,945 1427.5,1010 1375.3,1075" stroke-width="8" fill="none" />
<polyline points="1375.3,1075 1321.1,1139 1376,1203" stroke-width="8" fill="none" />
<polyline points="1375.3,1075 1428.4,1139 1376,1203" stroke-width="8" fill="none" />
<polyline points="1376,1203 1322.1,1270.5 1376.7,1338" stroke-width="8" fill="none" />
<polyline points="1376,1203 1429.2,1270.5 1376.7,1338" stroke-width="8" fill="none" />
<polyline points="1376.7,1338 1323.1,1393.5 1377.3,1449" stroke-width="8" fill="none" />
<polyline points="1376.7,1338 1430.1,1393.5 1377.3,1449" stroke-width="8" fill="none" />
<polyline points="1377.3,1449 1323.9,1510 1377.9,1571" stroke-width="8" fill="none" />
<polyline points="1377.3,1449 1430.8,1510 1377.9,1571" stroke-width="8" fill="none" />
<polyline points="1377.9,1571 1324.9,1632.5 1378.6,1694" stroke-width="8" fill="none" />
<polyline points="1377.9,1571 1431.6,1632.5 1378.6,1694" stroke-width="8" fill="none" />
<polyline points="1378.6,1694 1325.8,1752.5 1379.2,1811" stroke-width="8" fill="none" />
<polyline points="1378.6,1694 1432.4,1752.5 1379.2,1811" stroke-width="8" fill="none" />
<polyline points="1379.2,1811 1326.6,1866 1379.8,1921" stroke-width="8" fill="none" />
<polyline points="1379.2,1811 1433.2,1866 1379.8,1921" stroke-width="8" fill="none" />
<polyline points="1379.8,1921 1327.5,1982 1380.5,2043" stroke-width="8" fill="none" />
<polyline points="1379.8,1921 1433.9,1982 1380.5,2043" stroke-width="8" fill="none" />
<polyline points="1380.5,2043 1328.5,2104.5 1381.2,2166" stroke-width="8" fill="none" />
<polyline points="1380.5,2043 1434.7,2104.5 1381.2,2166" stroke-width="8" fill="none" />
<polyline points="1381.2,2166 1329.3,2215 1381.7,2264" stroke-width="8" fill="none" />
<polyline points="1381.2,2166 1435.5,2215 1381.7,2264" stroke-width="8" fill="none" />
<polyline points="1381.7,2264 1330.1,2318.5 1382.3,2373" stroke-width="8" fill="none" />
<polyline points="1381.7,2264 1436.2,2318.5 1382.3,2373" stroke-width="8" fill="none" />
<polyline points="1382.3,2373 1330.9,2429.5 1382.9,2486" stroke-width="8" fill="none" />
<polyline points="1382.3,2373 1436.9,2429.5 1382.9,2486" stroke-width="8" fill="none" />
<polyline points="1382.9,2486 1331.7,2538 1383.4,2590" stroke-width="8" fill="none" />
<polyline points="1382.9,2486 1437.6,2538 1383.4,2590" stroke-width="8" fill="none" />
<rect x="1300" y="384.5" width="31" height="37" rx="4" fill="#000" stroke="none" transform="rotate(0 1315.5 403)"/>
<rect x="1408" y="384.5" width="31" height="37" rx="4" fill="#000" stroke="none" transform="rotate(0 1423.5 403)"/>
<rect x="1301.1" y="530.5" width="31" height="37" rx="4" fill="#000" stroke="none" transform="rotate(0 1316.6 549)"/>
<rect x="1409" y="530.5" width="31" height="37" rx="4" fill="#000" stroke="none" transform="rotate(0 1424.5 549)"/>
<rect x="1302.1" y="653.5" width="31" height="37" rx="4" fill="#000" stroke="none" transform="rotate(0 1317.6 672)"/>
<rect x="1409.8" y="653.5" width="31" height="37" rx="4" fill="#000" stroke="none" transform="rotate(0 1425.3 672)"/>
<rect x="1303" y="779.5" width="31" height="37" rx="4" fill="#000" stroke="none" transform="rotate(0 1318.5 798)"/>
<rect x="1410.6" y="779.5" width="31" height="37" rx="4" fill="#000" stroke="none" transform="rotate(0 1426.1 798)"/>
<rect x="1304.1" y="926.5" width="31" height="37" rx="4" fill="#000" stroke="none" transform="rotate(0 1319.6 945)"/>
<rect x="1411.6" y="926.5" width="31" height="37" rx="4" fill="#000" stroke="none" transform="rotate(0 1427.1 945)"/>
<rect x="1306.1" y="1184.5" width="31" height="37" rx="4" fill="#000" stroke="none" transform="rotate(0 1321.6 1203)"/>
<rect x="1413.3" y="1184.5" width="31" height="37" rx="4" fill="#000" stroke="none" transform="rotate(0 1428.8 1203)"/>
<rect x="1307.1" y="1319.5" width="31" height="37" rx="4" fill="#000" stroke="none" transform="rotate(0 1322.6 1338)"/>
<rect x="1414.2" y="1319.5" width="31" height="37" rx="4" fill="#000" stroke="none" transform="rotate(0 1429.7 1338)"/>
<rect x="1308" y="1430.5" width="31" height="37" rx="4" fill="#000" stroke="none" transform="rotate(0 1323.5 1449)"/>
<rect x="1414.9" y="1430.5" width="31" height="37" rx="4" fill="#000" stroke="none" transform="rotate(0 1430.4 1449)"/>
<rect x="1308.9" y="1552.5" width="31" height="37" rx="4" fill="#000" stroke="none" transform="rotate(0 1324.4 1571)"/>
<rect x="1415.7" y="1552.5" width="31" height="37" rx="4" fill="#000" stroke="none" transform="rotate(0 1431.2 1571)"/>
<rect x="1309.8" y="1675.5" width="31" height="37" rx="4" fill="#000" stroke="none" transform="rotate(0 1325.3 1694)"/>
<rect x="1416.5" y="1675.5" width="31" height="37" rx="4" fill="#000" stroke="none" transform="rotate(0 1432 1694)"/>
<rect x="1310.7" y="1792.5" width="31" height="37" rx="4" fill="#000" stroke="none" transform="rotate(0 1326.2 1811)"/>
<rect x="1417.3" y="1792.5" width="31" height="37" rx="4" fill="#000" stroke="none" transform="rotate(0 1432.8 1811)"/>
<rect x="1313.4" y="2147.5" width="31" height="37" rx="4" fill="#000" stroke="none" transform="rotate(0 1328.9 2166)"/>
<rect x="1419.7" y="2147.5" width="31" height="37" rx="4" fill="#000" stroke="none" transform="rotate(0 1435.2 2166)"/>
<rect x="1314.2" y="2245.5" width="31" height="37" rx="4" fill="#000" stroke="none" transform="rotate(0 1329.7 2264)"/>
<rect x="1420.3" y="2245.5" width="31" height="37" rx="4" fill="#000" stroke="none" transform="rotate(0 1435.8 2264)"/>
<rect x="1315" y="2354.5" width="31" height="37" rx="4" fill="#000" stroke="none" transform="rotate(0 1330.5 2373)"/>
<rect x="1421" y="2354.5" width="31" height="37" rx="4" fill="#000" stroke="none" transform="rotate(0 1436.5 2373)"/>
<rect x="1315.9" y="2467.5" width="31" height="37" rx="4" fill="#000" stroke="none" transform="rotate(0 1331.4 2486)"/>
<rect x="1421.8" y="2467.5" width="31" height="37" rx="4" fill="#000" stroke="none" transform="rotate(0 1437.3 2486)"/>
<rect x="1316.6" y="2571.5" width="31" height="37" rx="4" fill="#000" stroke="none" transform="rotate(0 1332.1 2590)"/>
<rect x="1422.5" y="2571.5" width="31" height="37" rx="4" fill="#000" stroke="none" transform="rotate(0 1438 2590)"/>
<polyline points="1371,286 1384,2679" stroke-width="6" fill="none" stroke-dasharray="332 10 8 10" stroke-dashoffset="26"/>
<line x1="1292" y1="408" x2="1309" y2="2622" stroke-width="8" stroke-dasharray="58 20" stroke-linecap="round"/>
<rect x="1259" y="1049" width="50" height="48" rx="4" fill="#000" stroke="none" transform="rotate(0 1284 1073)"/>
<rect x="1447" y="1049" width="50" height="48" rx="4" fill="#000" stroke="none" transform="rotate(0 1472 1073)"/>
<rect x="1264" y="1897" width="48" height="48" rx="4" fill="#000" stroke="none" transform="rotate(0 1288 1921)"/>
<rect x="1451" y="1896" width="50" height="50" rx="4" fill="#000" stroke="none" transform="rotate(0 1476 1921)"/>
<line x1="1239" y1="807" x2="1561" y2="807" stroke-width="7" />
<polyline points="1300,812 1236,872 1300,938" stroke-width="7" fill="none" />
<polyline points="1442,812 1512,872 1448,932" stroke-width="7" fill="none" />
<rect x="1338" y="1512" width="78" height="125" stroke-width="7" fill="none" />
<rect x="883" y="21" width="52" height="52" rx="4" fill="#000" stroke="none" transform="rotate(-17 909 47)"/>
<rect x="1810" y="20" width="54" height="52" rx="4" fill="#000" stroke="none" transform="rotate(21 1837 46)"/>
<rect x="171" y="1048.5" width="54" height="47" rx="4" fill="#000" stroke="none" transform="rotate(0 198 1072)"/>
<rect x="2528" y="1048" width="44" height="52" rx="4" fill="#000" stroke="none" transform="rotate(0 2550 1074)"/>
<rect x="183.5" y="1882" width="57" height="54" rx="4" fill="#000" stroke="none" transform="rotate(0 212 1909)"/>
<rect x="2533.5" y="1893.5" width="43" height="51" rx="4" fill="#000" stroke="none" transform="rotate(0 2555 1919)"/>
<rect x="916" y="2883" width="62" height="58" rx="4" fill="#000" stroke="none" transform="rotate(20 947 2912)"/>
<rect x="1828" y="2871" width="56" height="58" rx="4" fill="#000" stroke="none" transform="rotate(-22 1856 2900)"/>
<line x1="225" y1="1071" x2="1259" y2="1073" stroke-width="9" stroke-dasharray="278 16 10 16" stroke-dashoffset="148"/>
<line x1="2528" y1="1071" x2="1497" y2="1073" stroke-width="9" stroke-dasharray="272 18 10 18" stroke-dashoffset="80"/>
<line x1="241" y1="1921" x2="1264" y2="1921" stroke-width="9" stroke-dasharray="299 15 10 15 279 15 10 15 259 10 10 10 300"/>
<line x1="2534" y1="1921" x2="1501" y2="1921" stroke-width="9" stroke-dasharray="411 22 10 22 400 22 10 22 400 22 10 22 400"/>
<line x1="225" y1="1074" x2="1292" y2="1155" stroke-width="8" />
<line x1="2528" y1="1076" x2="1460" y2="1157" stroke-width="8" />
<line x1="241" y1="1917" x2="1300" y2="1874" stroke-width="8" />
<line x1="2534" y1="1911" x2="1450" y2="1874" stroke-width="8" />
<polyline points="1287,1152 1303,1371 1308,1560 1310,1700 1300,1874" stroke-width="5" fill="none" />
<polyline points="1445,1152 1454,1270 1459,1371 1460,1560 1460,1700 1452,1876" stroke-width="5" fill="none" />
<polyline points="1290,1097 1318,1450 1322,1700 1296,1874" stroke-width="4" fill="none" />
<polyline points="1466,1097 1440,1450 1436,1700 1462,1874" stroke-width="4" fill="none" />
<line x1="1282" y1="1097" x2="1283" y2="1416" stroke-width="9" />
<line x1="1283" y1="1436" x2="1283.1" y2="1454" stroke-width="9" />
<line x1="1283.1" y1="1474" x2="1283.8" y2="1702" stroke-width="9" />
<line x1="1283.8" y1="1713" x2="1284.3" y2="1874" stroke-width="9" />
<line x1="1476" y1="1097" x2="1477" y2="1360" stroke-width="9" />
<line x1="1476" y1="1369" x2="1477" y2="1627" stroke-width="9" />
<line x1="1476" y1="1683" x2="1477" y2="1875" stroke-width="9" />
<line x1="920" y1="72" x2="1284" y2="1073" stroke-width="8" stroke-dasharray="229 25 12 25 288 20 12 20 900"/>
<line x1="1830" y1="71" x2="1472" y2="1073" stroke-width="8" stroke-dasharray="357 18 12 18 255 14 10 14 900"/>
<line x1="1288" y1="1921" x2="947" y2="2912" stroke-width="8" stroke-dasharray="308 22 12 22 900"/>
<line x1="1476" y1="1921" x2="1856" y2="2900" stroke-width="8" stroke-dasharray="297 16 8 16 218 24 8 24 223 22 8 22 900"/>
<polygon points="947,402 1231,358 1231,493 947,447" stroke-width="9" fill="none" />
<line x1="1020" y1="390.7" x2="1020" y2="458.8" stroke-width="9" />
<line x1="1084" y1="380.8" x2="1084" y2="469.2" stroke-width="9" />
<line x1="1155" y1="369.8" x2="1155" y2="480.7" stroke-width="9" />
<line x1="899" y1="426" x2="1250" y2="426" stroke-width="5" />
<line x1="947" y1="402" x2="1020" y2="426" stroke-width="8" />
<line x1="947" y1="447" x2="1020" y2="426" stroke-width="8" />
<line x1="1020" y1="390.7" x2="1084" y2="426" stroke-width="8" />
<line x1="1020" y1="458.8" x2="1084" y2="426" stroke-width="8" />
<line x1="1084" y1="380.8" x2="1155" y2="426" stroke-width="8" />
<line x1="1084" y1="469.2" x2="1155" y2="426" stroke-width="8" />
<line x1="1155" y1="369.8" x2="1231" y2="426" stroke-width="8" />
<line x1="1155" y1="480.7" x2="1231" y2="426" stroke-width="8" />
<polygon points="1875,807 2162,856 2162,908 1875,949" stroke-width="9" fill="none" />
<line x1="1947" y1="819.3" x2="1947" y2="938.7" stroke-width="9" />
<line x1="2010" y1="830" x2="2010" y2="929.7" stroke-width="9" />
<line x1="2080" y1="842" x2="2080" y2="919.7" stroke-width="9" />
<line x1="1838" y1="878" x2="2220" y2="878" stroke-width="5" />
<line x1="1947" y1="819.3" x2="1875" y2="878" stroke-width="8" />
<line x1="1947" y1="938.7" x2="1875" y2="878" stroke-width="8" />
<line x1="2010" y1="830" x2="1947" y2="878" stroke-width="8" />
<line x1="2010" y1="929.7" x2="1947" y2="878" stroke-width="8" />
<line x1="2080" y1="842" x2="2010" y2="878" stroke-width="8" />
<line x1="2080" y1="919.7" x2="2010" y2="878" stroke-width="8" />
<line x1="2162" y1="856" x2="2080" y2="878" stroke-width="8" />
<line x1="2162" y1="908" x2="2080" y2="878" stroke-width="8" />
<polygon points="1202,2189 1280,2189 1239,2490 1197,2490" stroke-width="9" fill="none" />
<line x1="1200.4" y1="2287" x2="1266.7" y2="2287" stroke-width="8" />
<line x1="1199" y1="2368" x2="1255.6" y2="2368" stroke-width="8" />
<line x1="1202" y1="2189" x2="1266.7" y2="2287" stroke-width="7" />
<line x1="1199" y1="2368" x2="1266.7" y2="2287" stroke-width="7" />
<line x1="1199" y1="2368" x2="1239" y2="2490" stroke-width="7" />
<polygon points="1493,2194 1578,2194 1578,2490 1534,2490" stroke-width="9" fill="none" />
<line x1="1505.9" y1="2287" x2="1578" y2="2287" stroke-width="8" />
<line x1="1518.1" y1="2375" x2="1578" y2="2375" stroke-width="8" />
<line x1="1505.9" y1="2287" x2="1578" y2="2194" stroke-width="7" />
<line x1="1505.9" y1="2287" x2="1578" y2="2375" stroke-width="7" />
<line x1="1534" y1="2490" x2="1578" y2="2375" stroke-width="7" />
<rect x="1551" y="365" width="61" height="58" stroke-width="9" fill="none" />
<polygon points="1551,365 1612,365 1551,423" fill="#000" stroke="none"/>
<rect x="1729" y="661" width="109" height="125" stroke-width="9" fill="none" />
<rect x="1764" y="684" width="53" height="26" stroke-width="7" fill="none" />
<rect x="1764" y="740" width="56" height="25" stroke-width="7" fill="none" />
<rect x="1731" y="700" width="20" height="43" stroke-width="6" fill="none" />
<polyline points="1308,722 1731,722" stroke-width="8" fill="none" stroke-dasharray="62 12" stroke-dashoffset="0"/>
<rect x="1492" y="1238" width="99" height="88" stroke-width="9" fill="none" />
<rect x="1526" y="1251" width="50" height="51" stroke-width="7" fill="none" />
<line x1="1521" y1="1238" x2="1521" y2="1326" stroke-width="6" />
<line x1="1356" y1="1282" x2="1641" y2="1282" stroke-width="5" />
<line x1="1356" y1="1284" x2="1492" y2="1262" stroke-width="4" />
<line x1="1356" y1="1284" x2="1492" y2="1302" stroke-width="4" />
<rect x="1719" y="1106" width="183" height="84" stroke-width="9" fill="none" />
<rect x="1729" y="1471" width="54" height="50" stroke-width="9" fill="none" />
<rect x="1732" y="1553" width="82" height="84" stroke-width="9" fill="none" />
<rect x="1718" y="1780" width="300" height="82" stroke-width="9" fill="none" />
<polygon points="1827,1954 1900,1954 1904,2167 1827,2167" stroke-width="9" fill="none" />
<rect x="1975" y="2896" width="626" height="291" stroke-width="9" fill="none" />
<clipPath id="c25"><rect x="1979" y="2900" width="618" height="283"/></clipPath><g clip-path="url(#c25)">
<line x1="1690" y1="3187" x2="1990" y2="2887" stroke-width="6" />
<line x1="1742" y1="3187" x2="2042" y2="2887" stroke-width="6" />
<line x1="1794" y1="3187" x2="2094" y2="2887" stroke-width="6" />
<line x1="1846" y1="3187" x2="2146" y2="2887" stroke-width="6" />
<line x1="1898" y1="3187" x2="2198" y2="2887" stroke-width="6" />
<line x1="1950" y1="3187" x2="2250" y2="2887" stroke-width="6" />
<line x1="2002" y1="3187" x2="2302" y2="2887" stroke-width="6" />
<line x1="2054" y1="3187" x2="2354" y2="2887" stroke-width="6" />
<line x1="2106" y1="3187" x2="2406" y2="2887" stroke-width="6" />
<line x1="2158" y1="3187" x2="2458" y2="2887" stroke-width="6" />
<line x1="2210" y1="3187" x2="2510" y2="2887" stroke-width="6" />
<line x1="2262" y1="3187" x2="2562" y2="2887" stroke-width="6" />
<line x1="2314" y1="3187" x2="2614" y2="2887" stroke-width="6" />
<line x1="2366" y1="3187" x2="2666" y2="2887" stroke-width="6" />
<line x1="2418" y1="3187" x2="2718" y2="2887" stroke-width="6" />
<line x1="2470" y1="3187" x2="2770" y2="2887" stroke-width="6" />
<line x1="2522" y1="3187" x2="2822" y2="2887" stroke-width="6" />
<line x1="2574" y1="3187" x2="2874" y2="2887" stroke-width="6" />
<line x1="2626" y1="3187" x2="2926" y2="2887" stroke-width="6" />
<line x1="2678" y1="3187" x2="2978" y2="2887" stroke-width="6" />
<line x1="2730" y1="3187" x2="3030" y2="2887" stroke-width="6" />
<line x1="2782" y1="3187" x2="3082" y2="2887" stroke-width="6" />
</g>
<path d="M98,3246 L2260,3246 Q2480,3242 2636,3198" stroke-width="30" fill="none"/>
<rect x="278" y="3242" width="104" height="9" fill="#fff" stroke="none"/>
<rect x="516" y="3242" width="104" height="9" fill="#fff" stroke="none"/>
<rect x="760" y="3242" width="104" height="9" fill="#fff" stroke="none"/>
<rect x="985" y="3242" width="104" height="9" fill="#fff" stroke="none"/>
<rect x="1224" y="3242" width="104" height="9" fill="#fff" stroke="none"/>
<rect x="1472" y="3242" width="104" height="9" fill="#fff" stroke="none"/>
<rect x="1685" y="3242" width="104" height="9" fill="#fff" stroke="none"/>
<rect x="1921" y="3242" width="104" height="9" fill="#fff" stroke="none"/>
<rect x="2179" y="3242" width="104" height="9" fill="#fff" stroke="none"/>
<path d="M2310,3241 Q2480,3236 2600,3208" stroke-width="5" stroke="#fff" stroke-dasharray="100 40" fill="none"/>
<line x1="985" y1="247" x2="1019" y2="220" stroke-width="6" stroke-linecap="round"/>
<line x1="1144" y1="392" x2="1228" y2="266" stroke-width="6" stroke-linecap="round"/>
<line x1="1584" y1="365" x2="1632" y2="309" stroke-width="6" stroke-linecap="round"/>
<line x1="1840" y1="661" x2="1903" y2="598" stroke-width="6" stroke-linecap="round"/>
<line x1="1630" y1="720" x2="1726" y2="611" stroke-width="6" stroke-linecap="round"/>
<line x1="2098" y1="897" x2="2266" y2="967" stroke-width="6" stroke-linecap="round"/>
<line x1="700" y1="1011" x2="779" y2="910" stroke-width="6" stroke-linecap="round"/>
<line x1="1219" y1="1213" x2="1277" y2="1155" stroke-width="6" stroke-linecap="round"/>
<line x1="1544" y1="1251" x2="1580" y2="1218" stroke-width="6" stroke-linecap="round"/>
<line x1="1867" y1="1157" x2="2012" y2="1219" stroke-width="6" stroke-linecap="round"/>
<line x1="1755" y1="1495" x2="1861" y2="1432" stroke-width="6" stroke-linecap="round"/>
<line x1="1481" y1="1570" x2="1570" y2="1523" stroke-width="6" stroke-linecap="round"/>
<line x1="1770" y1="1605" x2="1870" y2="1544" stroke-width="6" stroke-linecap="round"/>
<line x1="1484" y1="1747" x2="1573" y2="1688" stroke-width="6" stroke-linecap="round"/>
<line x1="1727" y1="1797" x2="1864" y2="1694" stroke-width="6" stroke-linecap="round"/>
<line x1="114" y1="1800" x2="196" y2="1879" stroke-width="6" stroke-linecap="round"/>
<line x1="653" y1="1806" x2="748" y2="1895" stroke-width="6" stroke-linecap="round"/>
<line x1="887" y1="1822" x2="954" y2="1917" stroke-width="6" stroke-linecap="round"/>
<line x1="1186" y1="1793" x2="1265" y2="1896" stroke-width="6" stroke-linecap="round"/>
<line x1="1444" y1="2163" x2="1714" y2="2199" stroke-width="6" stroke-linecap="round"/>
<line x1="723" y1="2172" x2="804" y2="2057" stroke-width="6" stroke-linecap="round"/>
<line x1="1867" y1="2116" x2="2012" y2="2190" stroke-width="6" stroke-linecap="round"/>
<line x1="1182" y1="2580" x2="1208" y2="2487" stroke-width="6" stroke-linecap="round"/>
<line x1="1182" y1="2580" x2="1555" y2="2381" stroke-width="6" stroke-linecap="round"/>
<line x1="1581" y1="2575" x2="1399" y2="2508" stroke-width="6" stroke-linecap="round"/>
<line x1="2073" y1="2848" x2="2050" y2="2947" stroke-width="6" stroke-linecap="round"/>
<line x1="1480" y1="3084" x2="1605" y2="3228" stroke-width="6" stroke-linecap="round"/>
<text transform="translate(962.2 68) scale(0.661 1) skewX(-13)" font-size="65.2" stroke="#000" stroke-width="3.2" style="stroke:#000">Я-7</text>
<text transform="translate(1695.2 51) scale(0.666 1) skewX(-13)" font-size="66.7" stroke="#000" stroke-width="3.2" style="stroke:#000">Я-8</text>
<text transform="translate(1019 213) scale(0.595 1) skewX(-13)" font-size="60.9" stroke="#000" stroke-width="3.2" style="stroke:#000">10</text>
<text transform="translate(1217 262) scale(0.521 1) skewX(-13)" font-size="60.9" stroke="#000" stroke-width="3.2" style="stroke:#000">11</text>
<text transform="translate(1627 294) scale(0.518 1) skewX(-13)" font-size="62.3" stroke="#000" stroke-width="3.2" style="stroke:#000">12</text>
<text transform="translate(1896 578) scale(0.544 1) skewX(-13)" font-size="55.1" stroke="#000" stroke-width="3.2" style="stroke:#000">13</text>
<text transform="translate(1711 593) scale(0.566 1) skewX(-13)" font-size="59.4" stroke="#000" stroke-width="3.2" style="stroke:#000">15</text>
<text transform="translate(2287 1004) scale(0.509 1) skewX(-13)" font-size="68.1" stroke="#000" stroke-width="3.2" style="stroke:#000">14</text>
<text transform="translate(176.4 1014) scale(0.813 1) skewX(-13)" font-size="59.4" stroke="#000" stroke-width="3.2" style="stroke:#000">Я-3</text>
<text transform="translate(2504.5 1022) scale(0.776 1) skewX(-13)" font-size="63.8" stroke="#000" stroke-width="3.2" style="stroke:#000">Я-4</text>
<text transform="translate(659 1046) scale(0.749 1) skewX(-13)" font-size="59.4" stroke="#000" stroke-width="3.2" style="stroke:#000">9</text>
<text transform="translate(1192 1272) scale(0.703 1) skewX(-13)" font-size="65.2" stroke="#000" stroke-width="3.2" style="stroke:#000">8</text>
<text transform="translate(1578 1201) scale(0.539 1) skewX(-13)" font-size="56.5" stroke="#000" stroke-width="3.2" style="stroke:#000">16</text>
<text transform="translate(2028 1247) scale(0.527 1) skewX(-13)" font-size="63.8" stroke="#000" stroke-width="3.2" style="stroke:#000">17</text>
<text transform="translate(1868 1419) scale(0.539 1) skewX(-13)" font-size="59.4" stroke="#000" stroke-width="3.2" style="stroke:#000">18</text>
<text transform="translate(1572 1512) scale(0.569 1) skewX(-13)" font-size="62.3" stroke="#000" stroke-width="3.2" style="stroke:#000">19</text>
<text transform="translate(1863.4 1527) scale(0.750 1) skewX(-13)" font-size="59.4" stroke="#000" stroke-width="3.2" style="stroke:#000">20</text>
<text transform="translate(1573.4 1677) scale(0.516 1) skewX(-13)" font-size="68.1" stroke="#000" stroke-width="3.2" style="stroke:#000">21</text>
<text transform="translate(1852.5 1686) scale(0.704 1) skewX(-13)" font-size="66.7" stroke="#000" stroke-width="3.2" style="stroke:#000">22</text>
<text transform="translate(82 1790) scale(0.732 1) skewX(-13)" font-size="55.1" stroke="#000" stroke-width="3.2" style="stroke:#000">4</text>
<text transform="translate(618 1793) scale(0.749 1) skewX(-13)" font-size="59.4" stroke="#000" stroke-width="3.2" style="stroke:#000">5</text>
<text transform="translate(865 1800) scale(0.749 1) skewX(-13)" font-size="59.4" stroke="#000" stroke-width="3.2" style="stroke:#000">6</text>
<text transform="translate(1163 1795) scale(0.686 1) skewX(-13)" font-size="73.9" stroke="#000" stroke-width="3.2" style="stroke:#000">7</text>
<text transform="translate(2510.2 1868) scale(0.721 1) skewX(-13)" font-size="62.3" stroke="#000" stroke-width="3.2" style="stroke:#000">Я-1</text>
<text transform="translate(189.3 1996) scale(0.909 1) skewX(-13)" font-size="50.7" stroke="#000" stroke-width="3.2" style="stroke:#000">Я-2</text>
<text transform="translate(697 2226) scale(0.667 1) skewX(-13)" font-size="66.7" stroke="#000" stroke-width="3.2" style="stroke:#000">3</text>
<text transform="translate(2006.5 2250) scale(0.753 1) skewX(-13)" font-size="62.3" stroke="#000" stroke-width="3.2" style="stroke:#000">23</text>
<text transform="translate(1729.5 2225) scale(0.723 1) skewX(-13)" font-size="68.1" stroke="#000" stroke-width="3.2" style="stroke:#000">24</text>
<text transform="translate(1161.4 2648) scale(0.624 1) skewX(-13)" font-size="68.1" stroke="#000" stroke-width="3.2" style="stroke:#000">2</text>
<text transform="translate(1602 2606) scale(0.436 1) skewX(-13)" font-size="63.8" stroke="#000" stroke-width="3.2" style="stroke:#000">1</text>
<text transform="translate(2054.5 2822) scale(0.710 1) skewX(-13)" font-size="66.7" stroke="#000" stroke-width="3.2" style="stroke:#000">25</text>
<text transform="translate(998.4 2941) scale(0.665 1) skewX(-13)" font-size="71" stroke="#000" stroke-width="3.2" style="stroke:#000">Я-6</text>
<text transform="translate(1706.4 2928) scale(0.708 1) skewX(-13)" font-size="66.7" stroke="#000" stroke-width="3.2" style="stroke:#000">Я-5</text>
<text transform="translate(1430.5 3065) scale(0.710 1) skewX(-13)" font-size="66.7" stroke="#000" stroke-width="3.2" style="stroke:#000">26</text>
</g>
</svg></body></html>
